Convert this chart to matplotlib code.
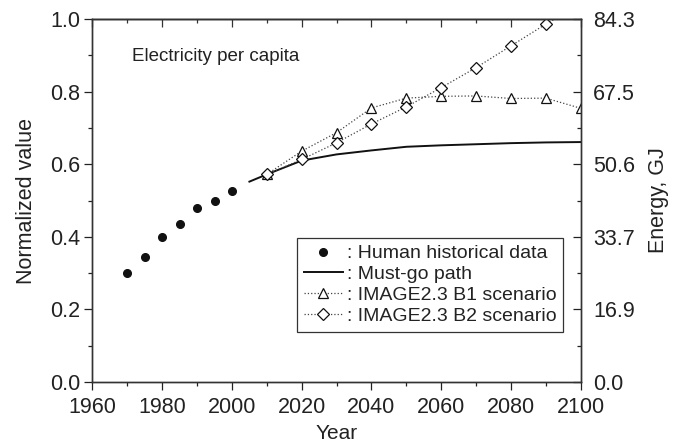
import numpy as np
import matplotlib
matplotlib.use("Agg")
import matplotlib.pyplot as plt
from matplotlib.ticker import MultipleLocator

plt.rcParams['font.family'] = ['Liberation Sans', 'DejaVu Sans']

# historical data
hist_years = [1970, 1975, 1980, 1985, 1990, 1995, 2000]
hist_vals = [0.300, 0.345, 0.399, 0.436, 0.480, 0.500, 0.527]

# must-go path
path_years = [2005, 2010, 2020, 2030, 2040, 2050, 2060, 2070, 2080, 2090, 2100]
path_vals = [0.552, 0.572, 0.610, 0.627, 0.638, 0.648, 0.652, 0.655, 0.658, 0.660, 0.661]

# IMAGE2.3 scenarios
scen_years = [2010, 2020, 2030, 2040, 2050, 2060, 2070, 2080, 2090, 2100]
b1_vals = [0.572, 0.636, 0.687, 0.755, 0.782, 0.787, 0.788, 0.781, 0.782, 0.754]
b2_vals = [0.572, 0.613, 0.659, 0.711, 0.758, 0.811, 0.866, 0.926, 0.986, 1.040]

energy_ticks = [0.0, 0.2, 0.4, 0.6, 0.8, 1.0]
energy_labels = ["0.0", "16.9", "33.7", "50.6", "67.5", "84.3"]

fig = plt.figure(figsize=(6.8, 4.47), dpi=100)
ax = fig.add_axes([0.136, 0.1454, 0.718, 0.8121])

ax.plot(hist_years, hist_vals, 'o', color='#111111', ms=5.5, ls='none',
        label=": Human historical data")
ax.plot(path_years, path_vals, '-', color='#111111', lw=1.4,
        label=": Must-go path")
ax.plot(scen_years, b1_vals, ls=':', color='#444444', lw=0.9, marker='^',
        ms=7, mfc='white', mec='#111111', mew=0.9,
        label=": IMAGE2.3 B1 scenario")
ax.plot(scen_years, b2_vals, ls=':', color='#444444', lw=0.9, marker='D',
        ms=6, mfc='white', mec='#111111', mew=0.9,
        label=": IMAGE2.3 B2 scenario")

ax.set_xlim(1960, 2100)
ax.set_ylim(0, 1.0)
ax.xaxis.set_major_locator(MultipleLocator(20))
ax.xaxis.set_minor_locator(MultipleLocator(10))
ax.yaxis.set_major_locator(MultipleLocator(0.2))
ax.yaxis.set_minor_locator(MultipleLocator(0.1))
ax.yaxis.set_major_formatter(plt.FormatStrFormatter('%.1f'))
ax.tick_params(which='both', direction='out', labelsize=15.5, colors='#222222',
               right=False, top=False)
ax.tick_params(which='major', length=6, width=0.9)
ax.tick_params(axis='x', which='major', pad=5)
ax.tick_params(axis='y', which='major', pad=3)
ax.tick_params(which='minor', length=3, width=0.9)

for s in ax.spines.values():
    s.set_linewidth(1.0)
    s.set_color('#333333')

# top ticks pointing inward
top = ax.secondary_xaxis('top')
top.xaxis.set_major_locator(MultipleLocator(20))
top.xaxis.set_minor_locator(MultipleLocator(10))
top.tick_params(which='both', direction='in', labeltop=False, colors='#333333')
top.tick_params(which='major', length=6, width=0.9)
top.tick_params(which='minor', length=3, width=0.9)
top.spines['top'].set_linewidth(1.0)
top.spines['top'].set_color('#333333')

# right energy axis
ax2 = ax.twinx()
ax2.set_ylim(0, 1.0)
ax2.set_yticks(energy_ticks)
ax2.set_yticklabels(energy_labels)
ax2.yaxis.set_minor_locator(MultipleLocator(0.1))
ax2.tick_params(which='both', direction='in', labelsize=15.5, colors='#222222')
ax2.tick_params(which='major', length=6, width=0.9, pad=9)
ax2.tick_params(which='minor', length=3, width=0.9)
for s in ax2.spines.values():
    s.set_linewidth(1.0)
    s.set_color('#333333')

ax.set_xlabel("Year", fontsize=15, color='#222222', labelpad=4)
ax.set_ylabel("Normalized value", fontsize=15.5, color='#222222', labelpad=9)
ax2.set_ylabel("Energy, GJ", fontsize=15.5, color='#222222', labelpad=9)

ax.text(0.08, 0.896, "Electricity per capita", transform=ax.transAxes,
        fontsize=13.5, color='#222222', va='center', ha='left')

leg = ax.legend(loc='upper left', bbox_to_anchor=(0.419, 0.397),
                fontsize=14, numpoints=1, handlelength=2.0, handletextpad=0.2,
                borderpad=0.35, labelspacing=0.17, borderaxespad=0,
                fancybox=False, framealpha=1, edgecolor='#333333')
leg.get_frame().set_linewidth(0.9)
for t in leg.get_texts():
    t.set_color('#222222')

fig.savefig("out.png", dpi=100)
